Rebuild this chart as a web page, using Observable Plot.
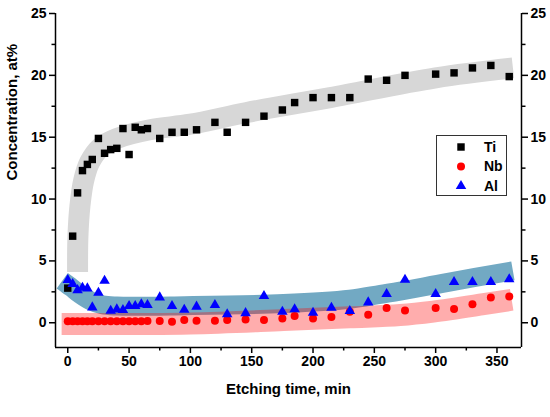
<!DOCTYPE html>
<html><head><meta charset="utf-8">
<script src="https://cdn.jsdelivr.net/npm/d3@7"></script>
<script src="https://cdn.jsdelivr.net/npm/@observablehq/plot@0.6"></script>
<style>
body{margin:0;background:#fff;}
#wrap{position:relative;width:550px;height:417px;}
#legend{position:absolute;left:436px;top:135px;}
</style></head><body><div id="wrap"></div>
<script>
// Etching time (min) for every measurement
const times = [0,4,8,12,16,20,25,30,35,40,45,50,55,60,65,75,85,95,105,120,130,145,160,175,185,200,215,230,245,260,275,300,315,330,345,360];
// Concentrations, at%
const ti = [2.8,7.0,10.5,12.3,12.8,13.2,14.9,13.7,14.0,14.1,15.7,13.6,15.8,15.6,15.7,14.9,15.4,15.4,15.6,16.2,15.4,16.2,16.7,17.2,17.8,18.2,18.2,18.2,19.7,19.6,20.0,20.1,20.2,20.6,20.8,19.9];
const nb = [0.12,0.12,0.12,0.12,0.12,0.12,0.12,0.12,0.12,0.12,0.12,0.12,0.12,0.13,0.14,0.15,0.08,0.22,0.16,0.16,0.22,0.27,0.22,0.35,0.54,0.35,0.46,0.89,0.65,1.19,1.0,1.19,1.11,1.49,2.05,2.13];
const al = [3.45,3.13,2.64,2.83,2.78,1.24,2.43,3.4,0.97,1.08,1.03,1.35,1.35,1.49,1.43,2.05,1.35,1.05,1.3,1.43,0.69,0.78,2.16,0.89,1.09,0.81,1.21,0.95,1.65,2.32,3.48,2.32,3.29,3.29,3.29,3.51];
// Hand-drawn trend bands (centre lines)
const tiBandX = [8,8.3,10,13,18,27,40,67,100,146,214,300,363];
const tiBandY = [4.1,7,9.5,11.5,13.0,14.2,14.9,15.6,16.05,17.0,18.2,19.8,20.6];
const alBandX = [-4.5,3,10,18,28,40,95,176,230,255,271,309,363];
const alBandY = [3.4,2.85,2.3,1.8,1.45,1.35,1.38,1.55,1.9,2.3,2.55,3.25,4.2];
const nbBandX = [-5,100,176,230,271,298,339,362];
const nbBandY = [-0.1,-0.05,0.22,0.44,0.62,0.9,1.5,1.86];
// Axes
const xDomain = [-10,370];
const yDomain = [-2,25];
const xTicks = [0,50,100,150,200,250,300,350];
const xMinor = [25,75,125,175,225,275,325];
const yTicks = [0,5,10,15,20,25];
const yMinor = [2.5,7.5,12.5,17.5,22.5];
const seriesNames = ["Ti","Nb","Al"];
const seriesColors = ["#000000","#ff0000","#0000ff"];
const seriesSymbols = ["square","circle","triangle"];

const pts = (ys) => times.map((t,i) => ({x:t, y:ys[i]}));
const band = (xs, ys) => xs.map((x,i) => ({x, y:ys[i]}));

const font = "'Liberation Sans', Arial, sans-serif";
const axisOpts = {tickSize:6, tickPadding:3, strokeWidth:1.5, fontSize:14, fontWeight:"bold"};
const minorOpts = {tickSize:3.5, strokeWidth:1.5, tickFormat: () => ""};

const chart = Plot.plot({
  width:550, height:417,
  marginLeft:55, marginRight:29, marginTop:13, marginBottom:70,
  style:{fontFamily:font, fontSize:"14px", fontWeight:"bold", background:"#fff", color:"#000"},
  x:{domain:xDomain, label:null},
  y:{domain:yDomain, label:null},
  marks:[
    Plot.line(band(tiBandX,tiBandY), {x:"x", y:"y", stroke:"#d7d7d7", strokeWidth:21, curve:"catmull-rom", strokeLinecap:"butt", strokeLinejoin:"round"}),
    Plot.line(band(alBandX,alBandY), {x:"x", y:"y", stroke:"#72a9c3", strokeWidth:19, curve:"catmull-rom", strokeLinecap:"butt", strokeLinejoin:"round"}),
    Plot.line(band(nbBandX,nbBandY), {x:"x", y:"y", stroke:"#ff0000", strokeOpacity:0.32, strokeWidth:22, curve:"catmull-rom", strokeLinecap:"butt", strokeLinejoin:"round"}),
    Plot.dot(pts(ti), {x:"x", y:"y", symbol:"square", fill:seriesColors[0], r:4.2}),
    Plot.dot(pts(nb), {x:"x", y:"y", symbol:"circle", fill:seriesColors[1], r:4}),
    Plot.dot(pts(al), {x:"x", y:"y", symbol:"triangle", fill:seriesColors[2], r:3.9}),
    Plot.ruleY([yDomain[0]], {stroke:"#000", strokeWidth:1.5}),
    Plot.ruleX([xDomain[0]], {stroke:"#000", strokeWidth:1.5}),
    Plot.ruleX([xDomain[1]], {stroke:"#000", strokeWidth:1.5}),
    Plot.axisX(xTicks, {...axisOpts, anchor:"bottom", label:null}),
    Plot.axisX(xMinor, {...minorOpts, anchor:"bottom", label:null}),
    Plot.axisY(yTicks, {...axisOpts, anchor:"left", label:null}),
    Plot.axisY(yMinor, {...minorOpts, anchor:"left", label:null}),
    Plot.axisY(yTicks, {...axisOpts, anchor:"right", label:null}),
    Plot.axisY(yMinor, {...minorOpts, anchor:"right", label:null}),
    Plot.text(["Etching time, min"], {frameAnchor:"bottom", dy:46, fontSize:15, fontWeight:"bold", fill:"#000"}),
    Plot.text(["Concentration, at%"], {frameAnchor:"left", dx:-43, rotate:-90, fontSize:15, fontWeight:"bold", fill:"#000"})
  ]
});
const wrap = document.getElementById("wrap");
wrap.appendChild(chart);

// Legend
const lg = d3.select(wrap).append("svg").attr("id","legend").attr("width",71).attr("height",61);
lg.append("rect").attr("x",0.5).attr("y",0.5).attr("width",70).attr("height",60).attr("fill","#fff").attr("stroke","#333").attr("stroke-width",1);
const symMap = {square:d3.symbolSquare, circle:d3.symbolCircle, triangle:d3.symbolTriangle};
const symR = [4.2,4,3.9];
seriesNames.forEach((n,i) => {
  const cy = 12 + i*19.5;
  lg.append("path").attr("transform",`translate(25,${cy})`)
    .attr("d", d3.symbol(symMap[seriesSymbols[i]], Math.PI*symR[i]*symR[i])())
    .attr("fill", seriesColors[i]);
  lg.append("text").attr("x",48).attr("y",cy).attr("dy","0.35em")
    .attr("font-family",font).attr("font-size",14).attr("font-weight","bold").text(n);
});
</script></body></html>
